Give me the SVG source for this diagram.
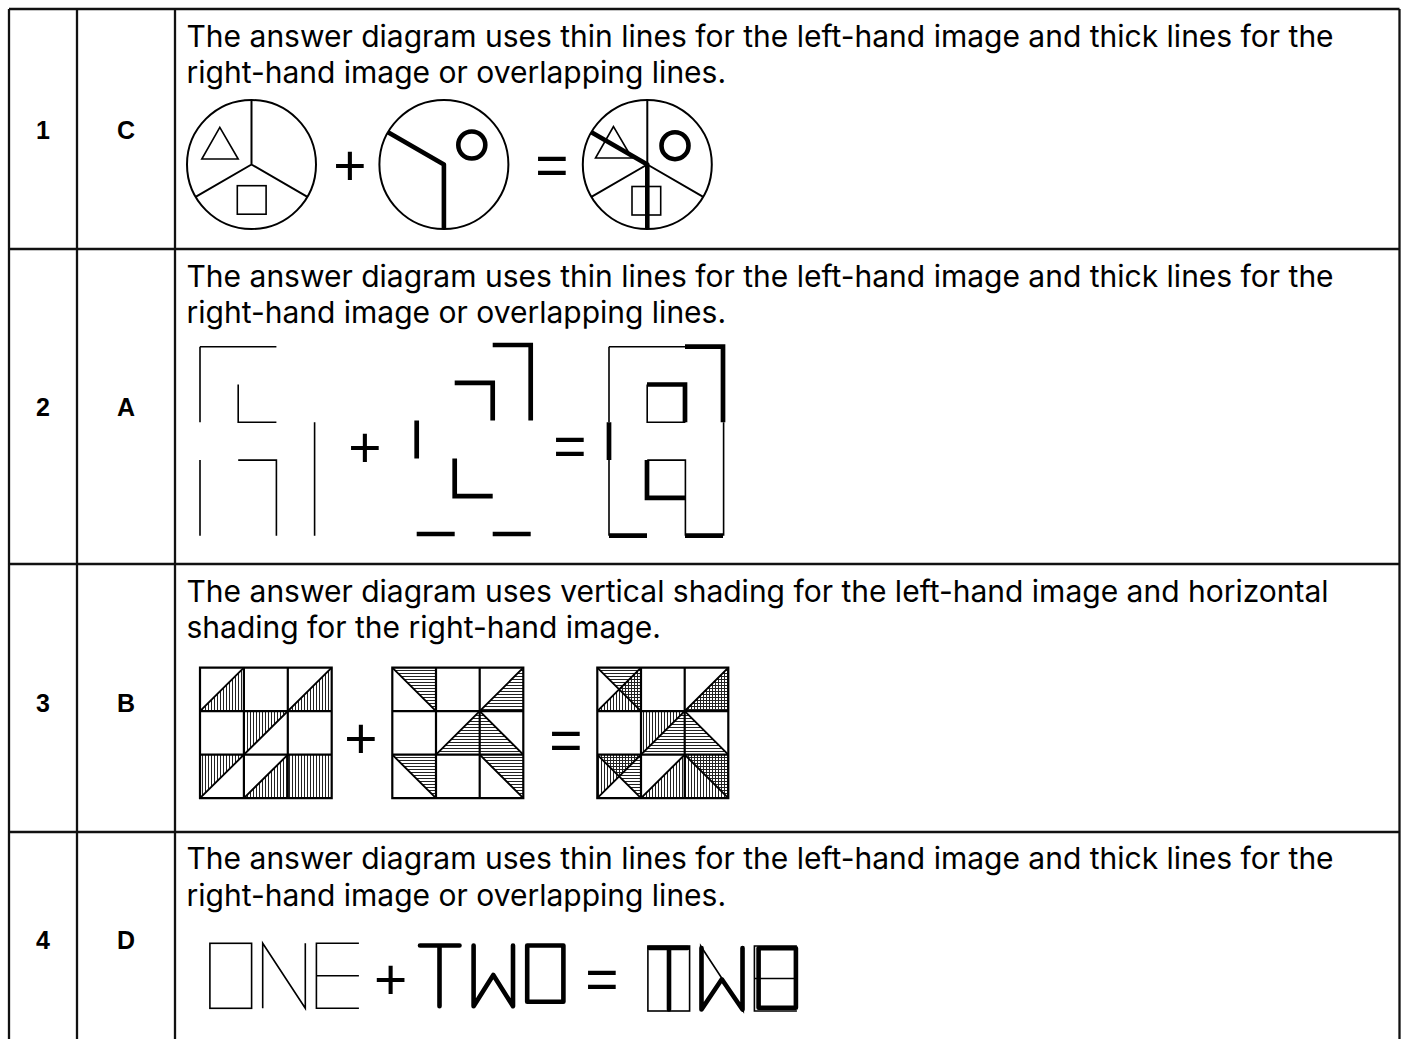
<svg xmlns="http://www.w3.org/2000/svg" width="1405" height="1039" viewBox="0 0 1405 1039">
<style>
.bg{fill:#fff}
.tbl{stroke:#111;stroke-width:2.3;fill:none}
.txt{font-family:Inter,"Liberation Sans",Arial,sans-serif;font-size:30px;fill:#000}
.lbl{font-family:"Liberation Sans",Arial,sans-serif;font-size:25px;font-weight:bold;fill:#000;text-anchor:middle}
.op{font-family:"Liberation Sans",Arial,sans-serif;font-size:57px;fill:#000;text-anchor:middle}
.thin{stroke:#000;stroke-width:2;fill:none}
.hair{stroke:#000;stroke-width:1.6;fill:none}
.thick{stroke:#000;stroke-width:4.6;fill:none;stroke-linejoin:round}
.sq{stroke:#000;stroke-width:4.7;fill:none;stroke-linejoin:miter;stroke-linecap:butt}
.rnd{stroke:#000;stroke-width:4.6;fill:none;stroke-linejoin:round;stroke-linecap:round}
.grid{stroke:#000;stroke-width:2.2;fill:none}
.diag{stroke:#000;stroke-width:1.9;fill:none}
.vh{fill:url(#vh);stroke:none}
.hh{fill:url(#hh);stroke:none}
</style>
<defs>
<pattern id="vh" patternUnits="userSpaceOnUse" width="3" height="10">
<line x1="1.5" y1="0" x2="1.5" y2="10" stroke="#222" stroke-width="1"/>
</pattern>
<pattern id="hh" patternUnits="userSpaceOnUse" width="10" height="3">
<line x1="0" y1="1.5" x2="10" y2="1.5" stroke="#222" stroke-width="1"/>
</pattern>
</defs>
<rect class="bg" x="0" y="0" width="1405" height="1039"/>

<g id="table">
<path class="tbl" d="M9,9 H1399.5 M9,9 V1045 M77,9 V1045 M175,9 V1045 M1399.5,9 V1045 M9,249 H1399.5 M9,564 H1399.5 M9,832 H1399.5"/>
</g>

<g id="row1">
<text class="lbl" x="43" y="138.5">1</text>
<text class="lbl" x="126" y="138.5">C</text>
<text class="txt" x="186.5" y="46.7">The answer diagram uses thin lines for the left-hand image and thick lines for the</text>
<text class="txt" x="186.5" y="83.3">right-hand image or overlapping lines.</text>
<g id="r1-left">
<circle class="thin" cx="251.5" cy="164.5" r="64.5"/>
<path class="thin" d="M251.5,100 V164.5 M251.5,164.5 L195.6,196.8 M251.5,164.5 L307.4,196.8"/>
<polygon class="hair" points="219.8,127.3 201.8,159 238.2,159"/>
<rect class="hair" x="237.3" y="185.7" width="28.8" height="28.5"/>
</g>
<text class="op" x="350" y="185">+</text>
<g id="r1-mid">
<circle class="thin" cx="443.9" cy="164.5" r="64.5"/>
<polyline class="thick" points="388,132.25 443.9,164.5 443.9,229"/>
<circle class="thick" cx="471.8" cy="145" r="13.5"/>
</g>
<text class="op" x="552" y="185.3">=</text>
<g id="r1-answer">
<circle class="thin" cx="647.3" cy="164.5" r="64.5"/>
<path class="thin" d="M647.3,100 V164.5 M647.3,164.5 L591.4,196.8 M647.3,164.5 L703.2,196.8"/>
<polygon class="hair" points="613.5,126.5 595.5,158 631.9,158"/>
<rect class="hair" x="632" y="186.5" width="28.7" height="28.5"/>
<polyline class="thick" points="591.4,132.25 647.3,164.5 647.3,229"/>
<circle class="thick" cx="675" cy="145.7" r="13.5"/>
</g>
</g>

<g id="row2">
<text class="lbl" x="43" y="415.5">2</text>
<text class="lbl" x="126" y="415.5">A</text>
<text class="txt" x="186.5" y="286.5">The answer diagram uses thin lines for the left-hand image and thick lines for the</text>
<text class="txt" x="186.5" y="323">right-hand image or overlapping lines.</text>
<g id="r2-left">
<path class="hair" d="M200,346.7 H276.4 M200,346.7 V422.3 M238.2,384.5 V422.3 H276.4 M314.6,422.3 V535.7 M200,460.1 V535.7 M238.2,460.1 H276.4 V535.7"/>
</g>
<text class="op" x="365" y="467.3">+</text>
<g id="r2-mid">
<path class="sq" d="M492.7,345 H530.7 V420.6 M454.7,382.8 H492.7 V420.6 M416.7,420.6 V458.4 M454.7,458.4 V496.2 H492.7 M416.7,534 H454.7 M492.7,534 H530.7"/>
</g>
<text class="op" x="570" y="466.2">=</text>
<g id="r2-answer">
<path class="hair" d="M609,346.7 H685.4 M609,346.7 V422.3 M647.2,384.5 V422.3 H685.4 M723.6,422.3 V535.7 M609,460.1 V535.7 M647.2,460.1 H685.4 V535.7"/>
<path class="sq" d="M685,346.7 H723 V422.3 M647,384.5 H685 V422.3 M609,422.3 V460.1 M647,460.1 V497.9 H685 M609,535.7 H647 M685,535.7 H723"/>
</g>
</g>

<g id="row3">
<text class="lbl" x="43" y="711.5">3</text>
<text class="lbl" x="126" y="711.5">B</text>
<text class="txt" x="186.5" y="601.5">The answer diagram uses vertical shading for the left-hand image and horizontal</text>
<text class="txt" x="186.5" y="638">shading for the right-hand image.</text>
<g id="r3-left">
<polygon class="vh" points="200,711.2 243.9,667.7 243.9,711.2"/>
<polygon class="vh" points="287.8,711.2 331.7,667.7 331.7,711.2"/>
<polygon class="vh" points="243.9,711.2 287.8,711.2 243.9,754.7"/>
<polygon class="vh" points="200,754.7 243.9,754.7 200,798.2"/>
<polygon class="vh" points="243.9,798.2 287.8,754.7 287.8,798.2"/>
<rect class="vh" x="287.8" y="754.7" width="43.9" height="43.5"/>
<path class="diag" d="M200,711.2 L243.9,667.7 M200,798.2 L331.7,667.7 M243.9,798.2 L287.8,754.7"/>
<path class="grid" d="M200,667.7 H331.7 V798.2 H200 Z M243.9,667.7 V798.2 M287.8,667.7 V798.2 M200,711.2 H331.7 M200,754.7 H331.7"/>
</g>
<text class="op" x="361" y="758.2">+</text>
<g id="r3-mid">
<polygon class="hh" points="392.3,667.7 436,667.7 436,711.2"/>
<polygon class="hh" points="479.7,711.2 523.3,667.7 523.3,711.2"/>
<polygon class="hh" points="436,754.7 479.7,711.2 479.7,754.7"/>
<polygon class="hh" points="479.7,711.2 479.7,754.7 523.3,754.7"/>
<polygon class="hh" points="392.3,754.7 436,754.7 436,798.2"/>
<polygon class="hh" points="479.7,754.7 523.3,754.7 523.3,798.2"/>
<path class="diag" d="M392.3,667.7 L436,711.2 M479.7,711.2 L523.3,667.7 M436,754.7 L479.7,711.2 M479.7,711.2 L523.3,754.7 M392.3,754.7 L436,798.2 M479.7,754.7 L523.3,798.2"/>
<path class="grid" d="M392.3,667.7 H523.3 V798.2 H392.3 Z M436,667.7 V798.2 M479.7,667.7 V798.2 M392.3,711.2 H523.3 M392.3,754.7 H523.3"/>
</g>
<text class="op" x="566" y="759.5">=</text>
<g id="r3-answer">
<polygon class="vh" points="597.3,711.2 641,667.7 641,711.2"/>
<polygon class="hh" points="597.3,667.7 641,667.7 641,711.2"/>
<polygon class="vh" points="684.7,711.2 728.3,667.7 728.3,711.2"/>
<polygon class="hh" points="684.7,711.2 728.3,667.7 728.3,711.2"/>
<polygon class="vh" points="641,711.2 684.7,711.2 641,754.7"/>
<polygon class="hh" points="641,754.7 684.7,711.2 684.7,754.7"/>
<polygon class="hh" points="684.7,711.2 684.7,754.7 728.3,754.7"/>
<polygon class="vh" points="597.3,754.7 641,754.7 597.3,798.2"/>
<polygon class="hh" points="597.3,754.7 641,754.7 641,798.2"/>
<polygon class="vh" points="641,798.2 684.7,754.7 684.7,798.2"/>
<rect class="vh" x="684.7" y="754.7" width="43.6" height="43.5"/>
<polygon class="hh" points="684.7,754.7 728.3,754.7 728.3,798.2"/>
<path class="diag" d="M597.3,711.2 L641,667.7 M597.3,667.7 L641,711.2 M597.3,798.2 L728.3,667.7 M684.7,711.2 L728.3,754.7 M597.3,754.7 L641,798.2 M641,798.2 L684.7,754.7 M684.7,754.7 L728.3,798.2"/>
<path class="grid" d="M597.3,667.7 H728.3 V798.2 H597.3 Z M641,667.7 V798.2 M684.7,667.7 V798.2 M597.3,711.2 H728.3 M597.3,754.7 H728.3"/>
</g>
</g>

<g id="row4">
<text class="lbl" x="43" y="948.5">4</text>
<text class="lbl" x="126" y="948.5">D</text>
<text class="txt" x="186.5" y="869">The answer diagram uses thin lines for the left-hand image and thick lines for the</text>
<text class="txt" x="186.5" y="905.5">right-hand image or overlapping lines.</text>
<g id="r4-left">
<rect class="hair" x="209.9" y="943.3" width="41.7" height="65"/>
<path class="hair" d="M262.7,1008.3 V943.3 L305.3,1008.3 V943.3 M358.9,943.3 H316.4 V1008.3 H358.9 M316.4,975.8 H358.9"/>
</g>
<text class="op" x="390.7" y="999.2">+</text>
<g id="r4-mid">
<path class="rnd" d="M420,945.5 H459.5 M439.5,945.5 V1006.2 M473.6,945.5 V1006.2 L493.3,975 L513,1006.2 V945.5"/>
<rect class="rnd" x="527.2" y="945.5" width="36.2" height="56.3"/>
</g>
<text class="op" x="602" y="999.2">=</text>
<g id="r4-answer">
<rect class="hair" x="647.9" y="946" width="41.7" height="65"/>
<path class="hair" d="M700.7,1011 V946 L743.3,1011 V946 M796.9,946 H754.4 V1011 H796.9 M754.4,978.5 H796.9"/>
<path class="rnd" d="M649.5,948 H687.5 M669,948 V1009.5 M701.5,948 V1009.5 L721.8,979.3 L742.5,1009.5 V948"/>
<rect class="rnd" x="758.6" y="948.2" width="37.3" height="59.6"/>
</g>
</g>
</svg>
